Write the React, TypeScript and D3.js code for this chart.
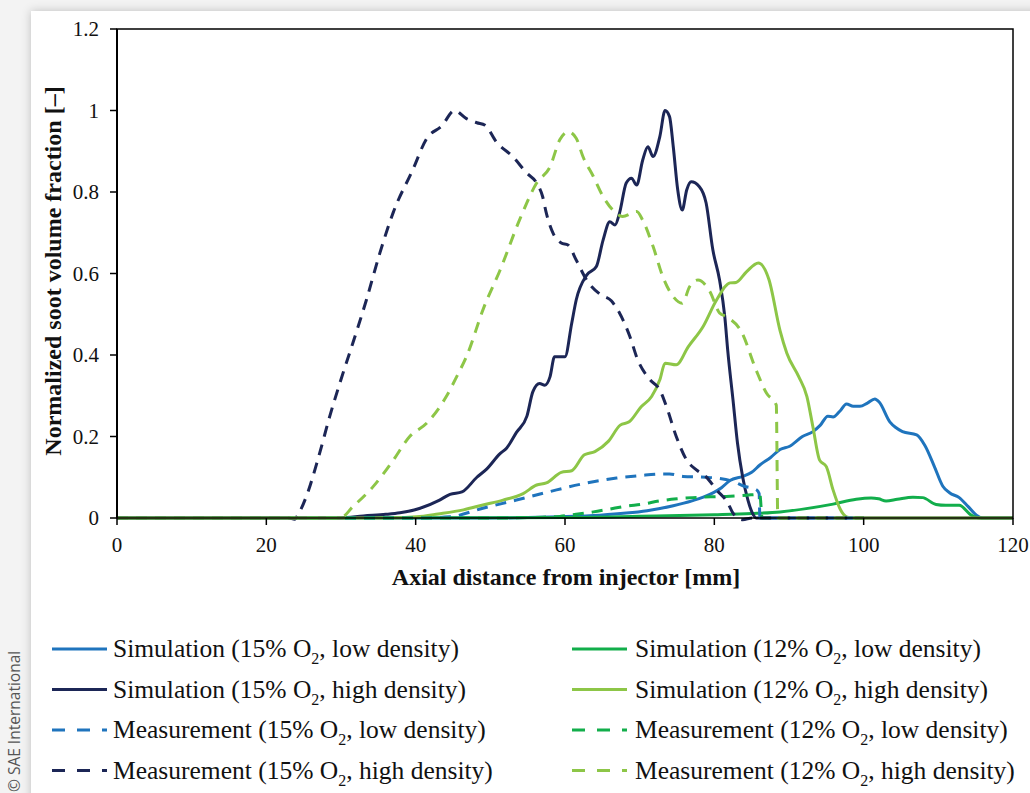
import React from "react";
import * as d3 from "d3";

const sim15Low: [number, number][] = [
  [0, 0], [50, 0], [55, 0.001], [59.3, 0.003], [64.7, 0.007], [68.2, 0.012], [71, 0.018],
  [74.5, 0.03], [77, 0.042], [79.4, 0.058], [81, 0.075], [82.1, 0.092], [83.8, 0.102],
  [85, 0.112], [86.1, 0.13], [87.5, 0.148], [88.8, 0.168], [90.1, 0.176], [91.8, 0.2],
  [93.2, 0.212], [94.2, 0.228], [95.2, 0.25], [95.9, 0.248], [96.8, 0.262], [97.7, 0.28],
  [98.6, 0.274], [99.5, 0.274], [100.5, 0.282], [101.5, 0.292], [102.1, 0.284], [103.5, 0.236],
  [104.3, 0.222], [105.2, 0.212], [107.1, 0.204], [108.2, 0.178], [109.5, 0.125], [110.6, 0.078],
  [111.5, 0.062], [112.8, 0.05], [114, 0.028], [115.1, 0.007], [116, 0], [120, 0],
];

const sim15High: [number, number][] = [
  [0, 0], [30, 0], [33, 0.005], [36, 0.009], [37.9, 0.013], [40.6, 0.024], [43.2, 0.044],
  [44.6, 0.058], [46.2, 0.064], [48.2, 0.1], [49.5, 0.12], [51.3, 0.158], [52.2, 0.172],
  [53.5, 0.21], [54.9, 0.25], [55.7, 0.31], [56.6, 0.33], [57.3, 0.326], [58, 0.347],
  [58.6, 0.396], [60, 0.396], [60.9, 0.478], [61.5, 0.535], [62.9, 0.596], [64.2, 0.617],
  [65.1, 0.682], [66, 0.727], [66.7, 0.719], [67.3, 0.748], [68.2, 0.822], [68.9, 0.834],
  [69.6, 0.817], [70.4, 0.878], [71.1, 0.911], [71.8, 0.887], [72.7, 0.936], [73.4, 1.0],
  [74, 0.985], [74.5, 0.911], [75.1, 0.805], [75.7, 0.756], [76.3, 0.805], [76.9, 0.825],
  [78, 0.813], [78.9, 0.773], [79.8, 0.658], [80.7, 0.584], [81.4, 0.494], [81.8, 0.41],
  [82.5, 0.29], [83.1, 0.184], [83.8, 0.1], [84.5, 0.044], [85.1, 0.012], [85.6, 0], [120, 0],
];

const sim12Low: [number, number][] = [
  [0, 0], [60, 0.001], [70, 0.004], [80, 0.008], [85, 0.011], [88.8, 0.015], [92.3, 0.023],
  [95.9, 0.034], [99, 0.046], [101, 0.049], [102, 0.047], [103, 0.042], [104.5, 0.046],
  [106.6, 0.051], [107.9, 0.05], [109.7, 0.033], [111, 0.031], [112.8, 0.031], [114.4, 0.007],
  [115.5, 0], [120, 0],
];

const sim12High: [number, number][] = [
  [0, 0], [36, 0], [40.1, 0.003], [43, 0.01], [46.4, 0.02], [49, 0.032], [51.7, 0.044],
  [54.4, 0.06], [56.2, 0.081], [57.5, 0.086], [59.5, 0.112], [60.9, 0.116], [62.6, 0.155],
  [64, 0.163], [65.8, 0.188], [67.4, 0.228], [68.6, 0.236], [70.2, 0.273], [71.6, 0.298],
  [72.7, 0.339], [73.4, 0.38], [74.9, 0.376], [76.5, 0.42], [78.5, 0.47], [80.3, 0.535],
  [82.1, 0.577], [82.9, 0.578], [84.3, 0.604], [85.9, 0.626], [87.3, 0.586], [88.8, 0.46],
  [89.7, 0.405], [91.3, 0.347], [92.4, 0.298], [93.2, 0.224], [94.1, 0.142], [95, 0.126],
  [95.9, 0.069], [96.8, 0.024], [97.7, 0.003], [98.5, 0], [120, 0],
];

const meas15Low: [number, number][] = [
  [0, 0], [40, 0], [44.6, 0.003], [49, 0.024], [53.5, 0.044], [58, 0.065], [62.4, 0.084],
  [66.9, 0.098], [70, 0.104], [72.7, 0.108], [74, 0.108], [75.8, 0.102], [78.9, 0.1],
  [80.3, 0.098], [82.5, 0.09], [84, 0.078], [85.6, 0.07], [86, 0.06], [86.1, 0], [100, 0],
];

const meas15High: [number, number][] = [
  [0, 0], [23, 0], [23.8, -0.003], [24.3, 0.01], [25.5, 0.06], [27, 0.15], [28.5, 0.25],
  [30, 0.34], [31.6, 0.43], [33.4, 0.535], [35.2, 0.65], [37, 0.75], [39.6, 0.854],
  [41.5, 0.932], [43.5, 0.962], [45.2, 1.0], [46.8, 0.98], [48.2, 0.97], [49.3, 0.964],
  [50.8, 0.923], [53, 0.887], [54.9, 0.846], [56.2, 0.822], [57, 0.789], [57.5, 0.748],
  [58.4, 0.699], [59.5, 0.675], [60.4, 0.67], [61.5, 0.633], [62.9, 0.584], [64.7, 0.549],
  [66.2, 0.533], [67.3, 0.503], [68.7, 0.445], [69.7, 0.39], [71.4, 0.339], [72.7, 0.314],
  [73.6, 0.273], [74.9, 0.2], [76.3, 0.142], [77.6, 0.118], [78.9, 0.101], [80.3, 0.069],
  [81.8, 0.037], [82.5, 0.012], [83.8, -0.004], [85.1, 0], [100, 0],
];

const meas12Low: [number, number][] = [
  [0, 0], [50, 0], [57, 0.002], [59.3, 0.004], [61.5, 0.009], [63.8, 0.015], [66, 0.022],
  [68.2, 0.029], [70.4, 0.034], [72.7, 0.042], [75, 0.047], [77.1, 0.05], [79.5, 0.052],
  [81.6, 0.053], [84.3, 0.056], [86.1, 0.058], [86.4, 0], [100, 0],
];

const meas12High: [number, number][] = [
  [0, 0], [29.9, 0], [31.6, 0.028], [34.3, 0.077], [37, 0.142], [39.2, 0.2], [41.5, 0.233],
  [44.1, 0.298], [45.5, 0.347], [46.8, 0.396], [49.2, 0.52], [51.3, 0.608], [53.9, 0.731],
  [56.2, 0.822], [58, 0.862], [59.3, 0.928], [60.4, 0.948], [61.5, 0.932], [62.4, 0.887],
  [63.8, 0.838], [65.1, 0.789], [66.4, 0.756], [67.7, 0.74], [69.6, 0.752], [70.4, 0.731],
  [71.8, 0.666], [73.1, 0.592], [74.5, 0.543], [75.7, 0.527], [76.7, 0.568], [77.8, 0.584],
  [79.4, 0.556], [80.7, 0.503], [81.6, 0.494], [83.6, 0.458], [85.6, 0.363], [87, 0.306],
  [88.3, 0.277], [88.5, 0], [100, 0],
];

const xTicks = [0, 20, 40, 60, 80, 100, 120];
const yTicks = [0, 0.2, 0.4, 0.6, 0.8, 1, 1.2];

// drawing order = Excel series order (row-wise legend)
const series = [
  { name: "Simulation", o2: "15%", dens: "low", data: sim15Low, color: "#1f74bd", dash: false },
  { name: "Simulation", o2: "12%", dens: "low", data: sim12Low, color: "#12ae4b", dash: false },
  { name: "Simulation", o2: "15%", dens: "high", data: sim15High, color: "#1c2656", dash: false },
  { name: "Simulation", o2: "12%", dens: "high", data: sim12High, color: "#8dc647", dash: false },
  { name: "Measurement", o2: "15%", dens: "low", data: meas15Low, color: "#1f74bd", dash: true },
  { name: "Measurement", o2: "12%", dens: "low", data: meas12Low, color: "#12ae4b", dash: true },
  { name: "Measurement", o2: "15%", dens: "high", data: meas15High, color: "#1c2656", dash: true },
  { name: "Measurement", o2: "12%", dens: "high", data: meas12High, color: "#8dc647", dash: true },
];

const W = 1030;
const H = 793;
const serif = "'Liberation Serif', 'Times New Roman', serif";

export default function App() {
  const x = d3.scaleLinear().domain([0, 120]).range([117, 1013]);
  const y = d3.scaleLinear().domain([0, 1.2]).range([518, 29]);

  const line = d3
    .line<[number, number]>()
    .x((d) => x(d[0]))
    .y((d) => y(d[1]))
    .curve(d3.curveMonotoneX);

  return (
    <svg width={W} height={H} style={{ position: "absolute", left: 0, top: 0 }}>
      <defs>
        <filter id="shadow" x="-5%" y="-5%" width="110%" height="110%">
          <feDropShadow dx="0" dy="0" stdDeviation="5" floodColor="#000" floodOpacity="0.22" />
        </filter>
      </defs>
      <rect width={W} height={H} fill="#f3f3f3" />
      <rect x={31} y={11} width={W + 20} height={H + 20} fill="#fff" filter="url(#shadow)" />

      <text
        transform="translate(20,792) rotate(-90)"
        fontFamily="'Open Sans', 'Liberation Sans', sans-serif"
        fontSize={15.5}
        fill="#555"
      >
        © SAE International
      </text>

      {/* series */}
      {series.map((s, i) => (
        <path
          key={i}
          d={line(s.data) ?? ""}
          fill="none"
          stroke={s.color}
          strokeWidth={3}
          strokeDasharray={s.dash ? "11,8" : undefined}
          strokeLinejoin="round"
        />
      ))}

      {/* frame */}
      <rect x={117} y={29} width={896} height={489} fill="none" stroke="#000" strokeWidth={1.5} />
      <line x1={117} x2={117} y1={29} y2={518} stroke="#000" strokeWidth={2} />

      {yTicks.map((t) => (
        <g key={"y" + t}>
          <line x1={110} x2={117} y1={y(t)} y2={y(t)} stroke="#000" strokeWidth={1.5} />
          <text x={99} y={y(t) + 7} textAnchor="end" fontFamily={serif} fontSize={21} fill="#111">
            {t}
          </text>
        </g>
      ))}
      {xTicks.map((t) => (
        <g key={"x" + t}>
          <line x1={x(t)} x2={x(t)} y1={518} y2={525} stroke="#000" strokeWidth={1.5} />
          <text x={x(t)} y={552} textAnchor="middle" fontFamily={serif} fontSize={21} fill="#111">
            {t}
          </text>
        </g>
      ))}

      <text x={566} y={585} textAnchor="middle" fontFamily={serif} fontSize={24} fontWeight="bold" fill="#111">
        Axial distance from injector [mm]
      </text>
      <text
        transform="translate(61,271) rotate(-90)"
        textAnchor="middle"
        fontFamily={serif}
        fontSize={24}
        fontWeight="bold"
        fill="#111"
      >
        Normalized soot volume fraction [–]
      </text>

      {/* legend */}
      {series.map((s, i) => {
        const col = i % 2;
        const row = Math.floor(i / 2);
        const lx = col === 0 ? 52 : 572;
        const tx = col === 0 ? 113 : 635;
        const by = 657 + row * 40.5;
        return (
          <g key={"l" + i}>
            <line
              x1={lx}
              x2={lx + 55}
              y1={by - 8}
              y2={by - 8}
              stroke={s.color}
              strokeWidth={3}
              strokeDasharray={s.dash ? "13,12" : undefined}
            />
            <text x={tx} y={by} fontFamily={serif} fontSize={25.5} fill="#111">
              {s.name} ({s.o2} O
              <tspan fontSize={16} dy={7}>2</tspan>
              <tspan dy={-7}>, {s.dens} density)</tspan>
            </text>
          </g>
        );
      })}
    </svg>
  );
}
